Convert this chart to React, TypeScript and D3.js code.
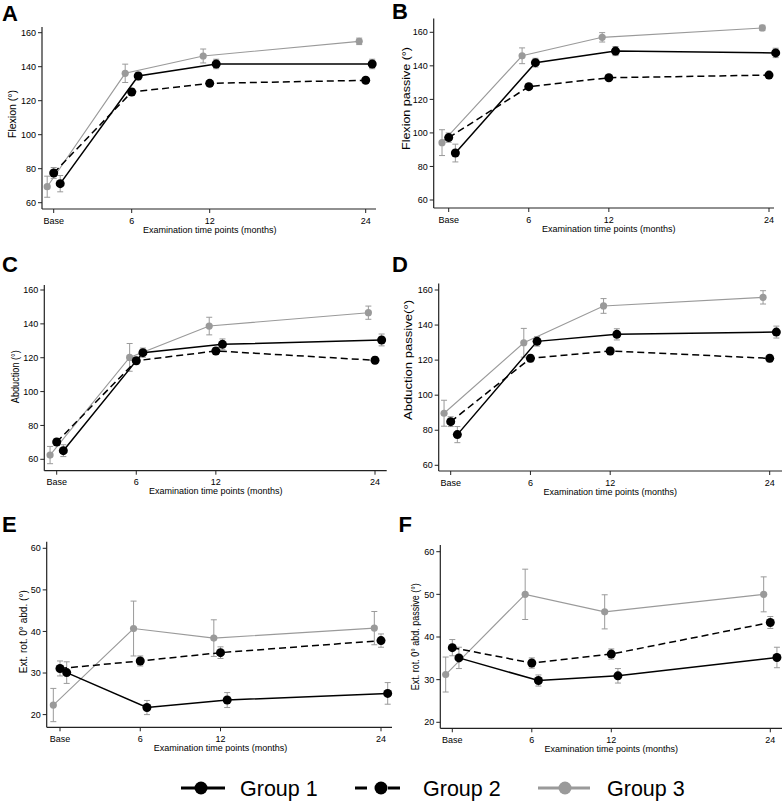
import React from "react";
import * as d3 from "d3";

// ---------- data ----------
const months = [0, 6, 12, 24];
const monthLabels = ["Base", "6", "12", "24"];
const groupNames = ["Group 1", "Group 2", "Group 3"];
const degTicks = [60, 80, 100, 120, 140, 160];
const rotTicks = [20, 30, 40, 50, 60];

// A: Flexion
const flexG1 = [71.2, 134.5, 141.6, 141.6];
const flexG1Err = [4.8, 2.2, 2.8, 2.8];
const flexG2 = [77.5, 125.1, 130.2, 132.0];
const flexG2Err = [3.2, 2.0, 1.5, 1.0];
const flexG3 = [69.4, 136.1, 146.3, 154.9];
const flexG3Err = [6.2, 5.4, 4.1, 1.9];
// B: Flexion passive
const flexPasG1 = [88.0, 141.9, 148.8, 147.7];
const flexPasG1Err = [5.3, 2.6, 2.7, 2.8];
const flexPasG2 = [97.2, 127.6, 132.9, 134.5];
const flexPasG2Err = [2.8, 1.5, 1.0, 1.0];
const flexPasG3 = [94.2, 146.0, 157.0, 162.6];
const flexPasG3Err = [7.7, 4.7, 2.8, 1.6];
// C: Abduction
const abdG1 = [65.1, 123.0, 127.9, 130.5];
const abdG1Err = [3.5, 2.7, 3.2, 3.5];
const abdG2 = [70.2, 118.2, 124.0, 118.5];
const abdG2Err = [2.0, 2.0, 2.0, 2.0];
const abdG3 = [62.5, 120.2, 138.7, 146.6];
const abdG3Err = [5.1, 8.2, 5.2, 3.9];
// D: Abduction passive
const abdPasG1 = [77.5, 130.7, 134.7, 136.0];
const abdPasG1Err = [4.6, 2.7, 3.2, 3.4];
const abdPasG2 = [84.9, 121.0, 125.2, 121.0];
const abdPasG2Err = [2.8, 2.0, 2.1, 2.0];
const abdPasG3 = [89.7, 129.9, 150.9, 155.8];
const abdPasG3Err = [7.4, 8.2, 4.2, 3.8];
// E: Ext. rot. 0° abd.
const erG1 = [30.1, 21.7, 23.5, 25.1];
const erG1Err = [2.6, 1.7, 1.8, 2.6];
const erG2 = [31.1, 32.9, 34.9, 37.8];
const erG2Err = [1.8, 1.2, 1.4, 1.6];
const erG3 = [22.3, 40.7, 38.4, 40.8];
const erG3Err = [4.0, 6.6, 4.4, 4.0];
// F: Ext. rot. 0° abd. passive
const erPasG1 = [35.1, 29.8, 30.9, 35.2];
const erPasG1Err = [2.5, 1.3, 1.7, 2.4];
const erPasG2 = [37.5, 33.9, 36.0, 43.4];
const erPasG2Err = [1.9, 1.2, 1.2, 1.4];
const erPasG3 = [31.2, 50.0, 45.9, 50.0];
const erPasG3Err = [4.1, 5.9, 4.0, 4.1];

// ---------- styles / layout ----------
const FONT = "'Liberation Sans', Arial, Helvetica, sans-serif";
const GRAY = "#9a9a9a";
const groupOffset = [0.5, 0, -0.5];
const groupStyle = [
  { stroke: "#000", width: 1.5, dash: null, fill: "#000", r: 4.5 },
  { stroke: "#000", width: 1.5, dash: "7,4", fill: "#000", r: 4.5 },
  { stroke: GRAY, width: 1.1, dash: null, fill: GRAY, r: 3.6 },
];

const panels = [
  {
    label: "A", lx: 2, ly: 20.5, title: "Flexion (°)", tx: 12, ty: 114, tlen: 48,
    axisX: 42, axisY: 209, xr: [53.7, 365.7], xEnd: 376,
    yd: [60, 160], yr: [202.7, 32.7], yTop: 27, ticks: degTicks,
    series: [[flexG1, flexG1Err], [flexG2, flexG2Err], [flexG3, flexG3Err]],
  },
  {
    label: "B", lx: 392, ly: 18.5, title: "Flexion passive (°)", tx: 406, ty: 98.5, tlen: 103,
    axisX: 433.7, axisY: 208, xr: [448.7, 769], xEnd: 774,
    yd: [60, 160], yr: [200, 32.3], yTop: 18.5, ticks: degTicks,
    series: [[flexPasG1, flexPasG1Err], [flexPasG2, flexPasG2Err], [flexPasG3, flexPasG3Err]],
  },
  {
    label: "C", lx: 2, ly: 272, title: "Abduction (°)", tx: 15, ty: 376.7, tlen: 53,
    axisX: 44.3, axisY: 470.7, xr: [56.7, 375], xEnd: 386.7,
    yd: [60, 160], yr: [459.3, 290], yTop: 285, ticks: degTicks,
    series: [[abdG1, abdG1Err], [abdG2, abdG2Err], [abdG3, abdG3Err]],
  },
  {
    label: "D", lx: 392, ly: 271.5, title: "Abduction passive(°)", tx: 408.5, ty: 360, tlen: 120,
    axisX: 438.7, axisY: 471, xr: [450.7, 769.7], xEnd: 782,
    yd: [60, 160], yr: [465.3, 290], yTop: 283.5, ticks: degTicks,
    series: [[abdPasG1, abdPasG1Err], [abdPasG2, abdPasG2Err], [abdPasG3, abdPasG3Err]],
  },
  {
    label: "E", lx: 2, ly: 531.5, title: "Ext. rot. 0° abd. (°)", tx: 23, ty: 631.7, tlen: 83,
    axisX: 46.7, axisY: 727.3, xr: [60, 381], xEnd: 392,
    yd: [20, 60], yr: [714.6, 548.3], yTop: 541.7, ticks: rotTicks,
    series: [[erG1, erG1Err], [erG2, erG2Err], [erG3, erG3Err]],
  },
  {
    label: "F", lx: 398.5, ly: 531.5, title: "Ext. rot. 0° abd. passive (°)", tx: 415, ty: 636.7, tlen: 107,
    axisX: 440.3, axisY: 728.3, xr: [452.3, 770.3], xEnd: 782,
    yd: [20, 60], yr: [722.3, 551.7], yTop: 545, ticks: rotTicks,
    series: [[erPasG1, erPasG1Err], [erPasG2, erPasG2Err], [erPasG3, erPasG3Err]],
  },
];

function Panel({ p }: { p: any }) {
  const x = d3.scaleLinear().domain([months[0], months[3]]).range(p.xr);
  const y = d3.scaleLinear().domain(p.yd).range(p.yr);
  const line = d3
    .line<[number, number]>()
    .x((d) => d[0])
    .y((d) => d[1]);
  const order = [2, 1, 0];
  return (
    <g>
      <text x={p.lx} y={p.ly} fontFamily={FONT} fontWeight="bold" fontSize={22} fill="#000">
        {p.label}
      </text>
      {/* axes */}
      <line x1={p.axisX} x2={p.axisX} y1={p.yTop} y2={p.axisY} stroke="#222" strokeWidth={1.2} />
      <line x1={p.axisX} x2={p.xEnd} y1={p.axisY} y2={p.axisY} stroke="#222" strokeWidth={1.2} />
      {p.ticks.map((t: number) => (
        <g key={"yt" + t}>
          <line x1={p.axisX - 4} x2={p.axisX} y1={y(t)} y2={y(t)} stroke="#222" strokeWidth={1} />
          <text x={p.axisX - 6} y={y(t)} dy="0.35em" textAnchor="end" fontFamily={FONT} fontSize={9} fill="#000">
            {t}
          </text>
        </g>
      ))}
      {months.map((m, i) => (
        <g key={"xt" + m}>
          <line x1={x(m)} x2={x(m)} y1={p.axisY} y2={p.axisY + 4} stroke="#222" strokeWidth={1} />
          <text x={x(m)} y={p.axisY + 11.5} dy="0.35em" textAnchor="middle" fontFamily={FONT} fontSize={9} fill="#000">
            {monthLabels[i]}
          </text>
        </g>
      ))}
      <text x={x(12)} y={p.axisY + 20.5} dy="0.35em" textAnchor="middle" fontFamily={FONT} fontSize={9} fill="#000">
        Examination time points (months)
      </text>
      <text
        transform={`translate(${p.tx},${p.ty}) rotate(-90)`}
        dy="0.35em"
        textAnchor="middle"
        fontFamily={FONT}
        fontSize={10}
        textLength={p.tlen}
        lengthAdjust="spacingAndGlyphs"
        fill="#000"
      >
        {p.title}
      </text>
      {/* error bars */}
      {order.map((g) => {
        const [vals, errs] = p.series[g];
        return (
          <g key={"eb" + g}>
            {months.map((m, i) => {
              const cx = x(m + groupOffset[g]);
              const lo = y(vals[i] - errs[i]);
              const hi = y(vals[i] + errs[i]);
              return (
                <g key={i}>
                  <line x1={cx} x2={cx} y1={lo} y2={hi} stroke={GRAY} strokeWidth={1} />
                  <line x1={cx - 3} x2={cx + 3} y1={lo} y2={lo} stroke={GRAY} strokeWidth={1} />
                  <line x1={cx - 3} x2={cx + 3} y1={hi} y2={hi} stroke={GRAY} strokeWidth={1} />
                </g>
              );
            })}
          </g>
        );
      })}
      {/* lines */}
      {order.map((g) => {
        const [vals] = p.series[g];
        const pts: [number, number][] = months.map((m, i) => [x(m + groupOffset[g]), y(vals[i])]);
        const s = groupStyle[g];
        return (
          <path
            key={"ln" + g}
            d={line(pts) || ""}
            fill="none"
            stroke={s.stroke}
            strokeWidth={s.width}
            strokeDasharray={s.dash || undefined}
          />
        );
      })}
      {/* markers */}
      {order.map((g) => {
        const [vals] = p.series[g];
        const s = groupStyle[g];
        return (
          <g key={"mk" + g}>
            {months.map((m, i) => (
              <circle key={i} cx={x(m + groupOffset[g])} cy={y(vals[i])} r={s.r} fill={s.fill} />
            ))}
          </g>
        );
      })}
    </g>
  );
}

function Legend() {
  const ly = 788;
  const items = [
    { x1: 181, x2: 225, cx: 201, text: 240 },
    { x1: 355, x2: 400, cx: 381, text: 423 },
    { x1: 538, x2: 590, cx: 565, text: 607 },
  ];
  return (
    <g>
      {items.map((it, g) => {
        const s = groupStyle[g];
        return (
          <g key={g}>
            {g === 1 ? (
              <>
                <line x1={it.x1} x2={it.x1 + 12} y1={ly} y2={ly} stroke="#000" strokeWidth={3} />
                <line x1={it.x2 - 12} x2={it.x2} y1={ly} y2={ly} stroke="#000" strokeWidth={3} />
              </>
            ) : (
              <line x1={it.x1} x2={it.x2} y1={ly} y2={ly} stroke={s.stroke} strokeWidth={3} />
            )}
            <circle cx={it.cx} cy={ly} r={6.5} fill={s.fill} />
            <text x={it.text} y={ly} dy="0.35em" fontFamily={FONT} fontSize={21.5} fill="#000">
              {groupNames[g]}
            </text>
          </g>
        );
      })}
    </g>
  );
}

export default function App() {
  return (
    <svg
      width={784}
      height={805}
      viewBox="0 0 784 805"
      style={{ position: "absolute", left: 0, top: 0, background: "#fff" }}
    >
      <rect width={784} height={805} fill="#fff" />
      {panels.map((p) => (
        <Panel key={p.label} p={p} />
      ))}
      <Legend />
    </svg>
  );
}
